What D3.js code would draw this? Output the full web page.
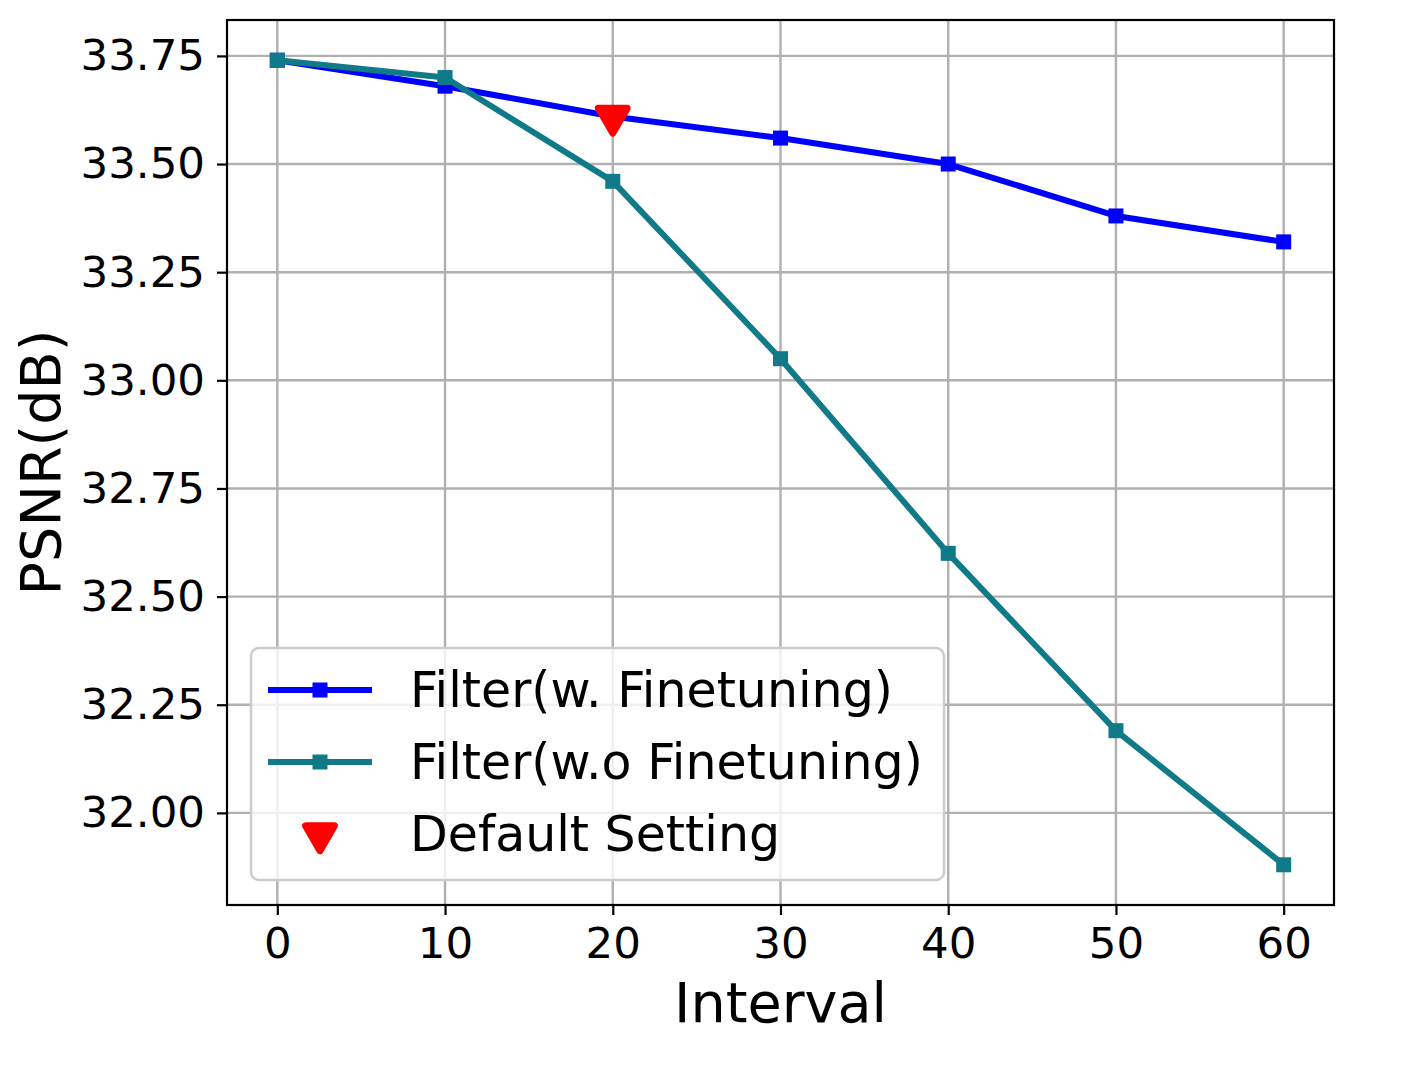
<!DOCTYPE html>
<html>
<head>
<meta charset="utf-8">
<script src="https://d3js.org/d3.v7.min.js"></script>
<style>
  body { margin: 0; background: #fff; }
  text { font-family: "DejaVu Sans", sans-serif; fill: #000; }
</style>
</head>
<body>
<div id="chart"></div>
<script>
// data
var intervals = [0, 10, 20, 30, 40, 50, 60];
var withFinetune = [33.74, 33.68, 33.61, 33.56, 33.50, 33.38, 33.32];
var withoutFinetune = [33.74, 33.70, 33.46, 33.05, 32.60, 32.19, 31.88];
var defaultPoint = [20, 33.61];
var xTicks = [0, 10, 20, 30, 40, 50, 60];
var yTicks = [32.00, 32.25, 32.50, 32.75, 33.00, 33.25, 33.50, 33.75];
var seriesNames = ["Filter(w. Finetuning)", "Filter(w.o Finetuning)", "Default Setting"];

var svgWidth = 1419, svgHeight = 1065;
var margin = { top: 20, right: 85, bottom: 160, left: 227 };
var width = svgWidth - margin.left - margin.right;
var height = svgHeight - margin.top - margin.bottom;

var svg = d3.select("#chart").append("svg")
  .attr("width", svgWidth)
  .attr("height", svgHeight);

var chartGroup = svg.append("g")
  .attr("transform", `translate(${margin.left}, ${margin.top})`);

// scales, with matplotlib-like 5% padding
var x = d3.scaleLinear().domain([-3, 63]).range([0, width]);
var yMin = d3.min(withoutFinetune), yMax = d3.max(withFinetune);
var pad = (yMax - yMin) * 0.05;
var y = d3.scaleLinear().domain([yMin - pad, yMax + pad]).range([height, 0]);

// grid
chartGroup.append("g").selectAll("line").data(xTicks).enter().append("line")
  .attr("x1", d => x(d)).attr("x2", d => x(d))
  .attr("y1", 0).attr("y2", height)
  .attr("stroke", "#b0b0b0").attr("stroke-width", 2.4);
chartGroup.append("g").selectAll("line").data(yTicks).enter().append("line")
  .attr("x1", 0).attr("x2", width)
  .attr("y1", d => y(d)).attr("y2", d => y(d))
  .attr("stroke", "#b0b0b0").attr("stroke-width", 2.4);

// axes
var bottomAxis = d3.axisBottom(x).tickValues(xTicks).tickSize(10).tickPadding(12).tickFormat(d3.format("d"));
var leftAxis = d3.axisLeft(y).tickValues(yTicks).tickSize(10).tickPadding(12).tickFormat(d3.format(".2f"));

var gx = chartGroup.append("g")
  .attr("transform", `translate(0, ${height})`)
  .call(bottomAxis);
var gy = chartGroup.append("g").call(leftAxis);

[gx, gy].forEach(function(g) {
  g.select(".domain").remove();
  g.selectAll(".tick line").attr("stroke", "#000").attr("stroke-width", 2.2);
  g.selectAll(".tick text").attr("font-size", 43.5).attr("font-family", "DejaVu Sans");
});

// lines
var line = d3.line().x((d, i) => x(intervals[i])).y(d => y(d));

function drawSeries(values, color) {
  chartGroup.append("path")
    .datum(values)
    .attr("d", line)
    .attr("fill", "none")
    .attr("stroke", color)
    .attr("stroke-width", 6)
    .attr("stroke-linejoin", "round")
    .attr("stroke-linecap", "square");
  chartGroup.append("g").selectAll("rect").data(values).enter().append("rect")
    .attr("x", (d, i) => x(intervals[i]) - 7.5)
    .attr("y", d => y(d) - 7.5)
    .attr("width", 15).attr("height", 15)
    .attr("fill", color);
}

drawSeries(withFinetune, "#0000ff");
drawSeries(withoutFinetune, "#117a89");

// default setting marker (triangle down)
var tri = d3.symbol().type(d3.symbolTriangle).size(360);
chartGroup.append("path")
  .attr("d", tri)
  .attr("transform", `translate(${x(defaultPoint[0])}, ${y(defaultPoint[1])}) rotate(180)`)
  .attr("fill", "#ff0000")
  .attr("stroke", "#ff0000")
  .attr("stroke-width", 7)
  .attr("stroke-linejoin", "round");

// frame
chartGroup.append("rect")
  .attr("width", width).attr("height", height)
  .attr("fill", "none").attr("stroke", "#000").attr("stroke-width", 2.2);

// axis labels
svg.append("text")
  .attr("x", margin.left + width / 2)
  .attr("y", 1022)
  .attr("text-anchor", "middle")
  .attr("font-size", 55.6)
  .text("Interval");

svg.append("text")
  .attr("transform", `translate(60, ${margin.top + height / 2}) rotate(-90)`)
  .attr("text-anchor", "middle")
  .attr("font-size", 55.6)
  .text("PSNR(dB)");

// legend
var legend = svg.append("g").attr("transform", "translate(251, 648)");
legend.append("rect")
  .attr("width", 693).attr("height", 232)
  .attr("rx", 8)
  .attr("fill", "#fff").attr("fill-opacity", 0.8)
  .attr("stroke", "#cccccc").attr("stroke-width", 2.5);

var legendColors = ["#0000ff", "#117a89", "#ff0000"];
seriesNames.forEach(function(name, i) {
  var cy = 42 + i * 72;
  var row = legend.append("g").attr("transform", `translate(0, ${cy})`);
  if (i < 2) {
    row.append("line")
      .attr("x1", 17).attr("x2", 121)
      .attr("stroke", legendColors[i]).attr("stroke-width", 6);
    row.append("rect")
      .attr("x", 69 - 7.5).attr("y", -7.5)
      .attr("width", 15).attr("height", 15)
      .attr("fill", legendColors[i]);
  } else {
    row.append("path")
      .attr("d", tri)
      .attr("transform", "translate(69, 0) rotate(180)")
      .attr("fill", "#ff0000").attr("stroke", "#ff0000")
      .attr("stroke-width", 7).attr("stroke-linejoin", "round");
  }
  row.append("text")
    .attr("x", 159)
    .attr("dy", "0.35em")
    .attr("font-size", 49)
    .text(name);
});
</script>
</body>
</html>
